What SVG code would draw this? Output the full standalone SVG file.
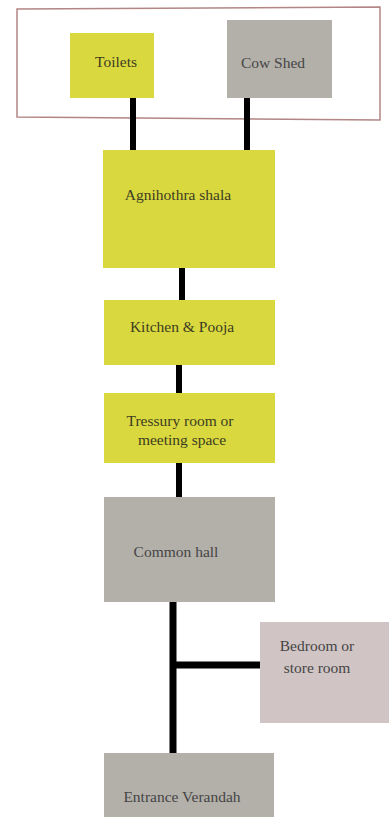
<svg xmlns="http://www.w3.org/2000/svg" width="389" height="817" viewBox="0 0 389 817">
<style>
.y{fill:#d9d83e}
.g{fill:#b3b0aa}
.p{fill:#d0c4c4}
text{font-family:'Liberation Serif','DejaVu Serif',serif;font-size:15.5px;text-anchor:middle}
.ty{fill:#3d3c22}
.tg{fill:#454545}
.c{stroke:#000;fill:none}
</style>
<rect width="389" height="817" fill="#fff"/>
<polygon id="zone" points="17,9 380,7 380,120 17,117" fill="none" stroke="#b38585" stroke-width="1.5"/>
<g id="connectors">
<line class="c" x1="133" y1="98" x2="133" y2="150" stroke-width="6"/>
<line class="c" x1="247" y1="98" x2="247" y2="150" stroke-width="6"/>
<line class="c" x1="182" y1="268" x2="182" y2="300" stroke-width="6"/>
<line class="c" x1="179" y1="365" x2="179" y2="393" stroke-width="6"/>
<line class="c" x1="179" y1="463" x2="179" y2="497" stroke-width="6"/>
<line class="c" x1="173" y1="602" x2="173" y2="753" stroke-width="7"/>
<line class="c" x1="173" y1="665" x2="260" y2="665" stroke-width="7"/>
</g>
<g id="toilets"><rect class="y" x="70" y="33" width="84" height="65"/><text class="ty" x="116" y="67" font-family="Liberation Serif, serif">Toilets</text></g>
<g id="cowshed"><rect class="g" x="227" y="20" width="105" height="78"/><text class="tg" x="273" y="68" font-family="Liberation Serif, serif">Cow Shed</text></g>
<g id="agnihothra"><rect class="y" x="103" y="150" width="172" height="118"/><text class="ty" x="178" y="200" font-family="Liberation Serif, serif">Agnihothra shala</text></g>
<g id="kitchen"><rect class="y" x="104" y="300" width="171" height="65"/><text class="ty" x="182" y="332" font-family="Liberation Serif, serif">Kitchen &amp; Pooja</text></g>
<g id="tressury"><rect class="y" x="104" y="393" width="171" height="70"/><text class="ty" x="180" y="426" font-family="Liberation Serif, serif">Tressury room or</text><text class="ty" x="182" y="445" font-family="Liberation Serif, serif">meeting space</text></g>
<g id="commonhall"><rect class="g" x="104" y="497" width="171" height="105"/><text class="tg" x="176" y="557" font-family="Liberation Serif, serif">Common hall</text></g>
<g id="bedroom"><rect class="p" x="260" y="622" width="129" height="101"/><text class="tg" x="317" y="651" font-family="Liberation Serif, serif">Bedroom or</text><text class="tg" x="317" y="673" font-family="Liberation Serif, serif">store room</text></g>
<g id="entrance"><rect class="g" x="104" y="753" width="170" height="64"/><text class="tg" x="182" y="802" font-family="Liberation Serif, serif">Entrance Verandah</text></g>
</svg>
